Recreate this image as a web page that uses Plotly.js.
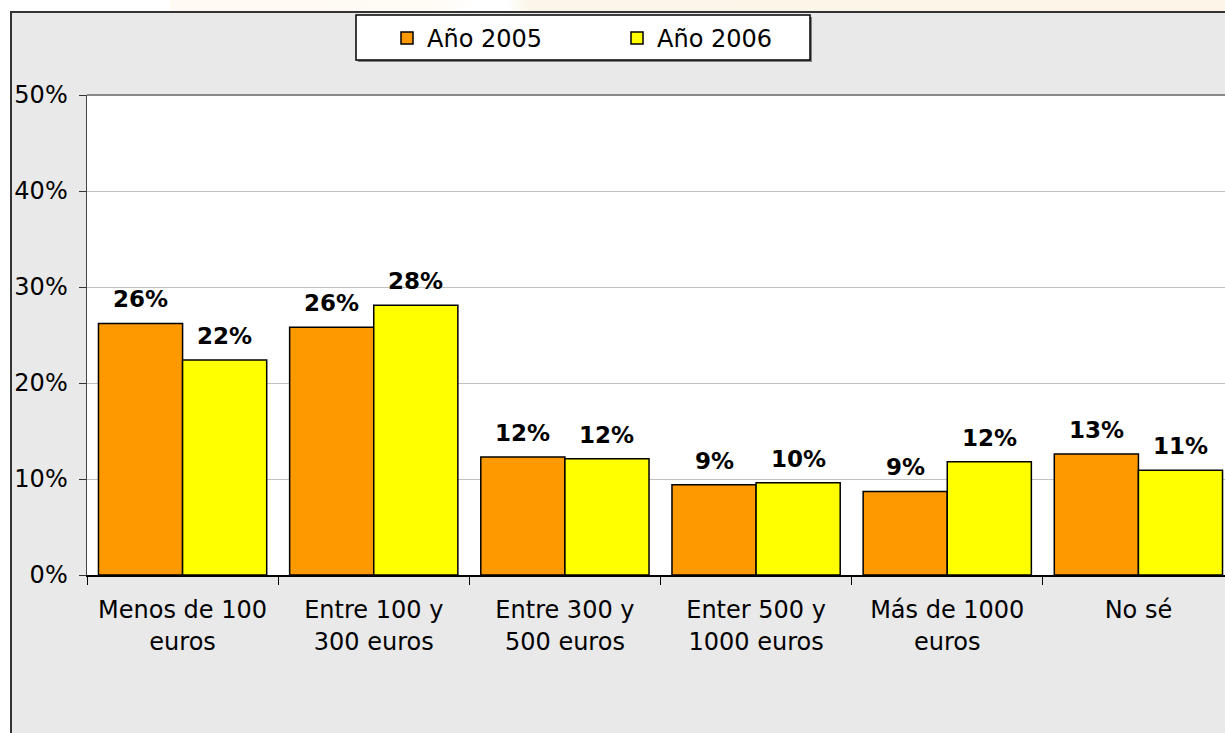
<!DOCTYPE html>
<html>
<head>
<meta charset="utf-8">
<script src="https://cdn.plot.ly/plotly-3.0.1.min.js"></script>
<style>
  html, body { margin:0; padding:0; width:1225px; height:733px; overflow:hidden; background:#ffffff; }
  #strip { position:absolute; left:170px; top:0; width:1055px; height:11px;
           background:linear-gradient(90deg, #fffaf3 0%, #fffbf5 25%, #ffffff 29%, #ffffff 32%, #fcf6ea 34%, #fcf5e8 100%); }
  #frame { position:absolute; left:10px; top:11px; width:1260px; height:740px;
           border-left:2px solid #333; border-top:2px solid #333; background:#e9e9e9; }
  #chart { position:absolute; left:0; top:0; }
</style>
</head>
<body>
<div id="strip"></div>
<div id="frame"><div id="chart"></div></div>
<script>
const categories = [
  "Menos de 100<br>euros",
  "Entre 100 y<br>300 euros",
  "Entre 300 y<br>500 euros",
  "Enter 500 y<br>1000 euros",
  "Más de 1000<br>euros",
  "No sé"
];
const seriesNames = ["Año 2005", "Año 2006"];
const values2005 = [26.2, 25.8, 12.3, 9.4, 8.7, 12.6];
const values2006 = [22.4, 28.1, 12.1, 9.6, 11.8, 10.9];
const yTickVals = [0, 10, 20, 30, 40, 50];

const colors = ["#FF9900", "#FFFF00"];
const allSeries = [values2005, values2006];

const W = 1250, H = 722;
const M = { l: 75, r: 28, t: 82, b: 160 };
const PW = W - M.l - M.r, PH = H - M.t - M.b;

const traces = allSeries.map((vals, i) => ({
  type: "bar",
  name: seriesNames[i],
  x: categories,
  y: vals,
  marker: { color: colors[i], line: { color: "#000000", width: 1.5 } },
  hoverinfo: "skip"
}));

const annotations = [];
allSeries.forEach((vals, i) => {
  vals.forEach((v, j) => {
    annotations.push({
      xref: "x", yref: "y", x: categories[j], y: v,
      xshift: i === 0 ? -42 : 42, yshift: 9,
      yanchor: "bottom", xanchor: "center",
      text: Math.round(v) + "%", showarrow: false,
      font: { family: "DejaVu Sans", size: 23, color: "#000000", weight: "bold" }
    });
  });
});

// legend frame (box drawn in pixel space of the figure, converted to paper units)
const px = x => (x - M.l) / PW;
const py = y => 1 - (y - M.t) / PH;
const legendBox = { x0: 344, x1: 798, y0: 2, y1: 47 };

const layout = {
  width: W, height: H,
  margin: M,
  paper_bgcolor: "#e9e9e9",
  plot_bgcolor: "#ffffff",
  font: { family: "DejaVu Sans", size: 24, color: "#000000" },
  barmode: "group",
  bargap: 0.12,
  bargroupgap: 0,
  showlegend: true,
  legend: {
    orientation: "h",
    xref: "container", yref: "container",
    x: 375 / W, xanchor: "left",
    y: 1 - 3 / H, yanchor: "top",
    bgcolor: "rgba(0,0,0,0)", borderwidth: 0,
    font: { family: "DejaVu Sans", size: 24, color: "#000000" },
    entrywidth: 185, entrywidthmode: "pixels",
    itemclick: false
  },
  xaxis: {
    type: "category",
    tickson: "boundaries",
    ticks: "outside", ticklen: 8, tickcolor: "#000000", tickwidth: 1,
    showline: true, linecolor: "#000000", linewidth: 1.5,
    showgrid: false,
    ticklabelstandoff: 13,
    tickfont: { family: "DejaVu Sans", size: 24 }
  },
  yaxis: {
    range: [0, 50],
    tickvals: yTickVals,
    ticktext: yTickVals.map(v => v + "%"),
    ticks: "outside", ticklen: 7, tickcolor: "#333333",
    showline: true, linecolor: "#444444", linewidth: 1.5,
    showgrid: true, gridcolor: "#c0c0c0", gridwidth: 1,
    zeroline: false,
    ticklabelstandoff: 6,
    tickfont: { family: "DejaVu Sans", size: 24 }
  },
  shapes: [
    { type: "line", xref: "paper", yref: "paper", x0: 0, x1: 1, y0: 1, y1: 1,
      line: { color: "#888888", width: 2 } },
    { type: "rect", xref: "paper", yref: "paper", layer: "above",
      x0: px(legendBox.x0 + 2), x1: px(legendBox.x1 + 2), y0: py(legendBox.y0 + 2), y1: py(legendBox.y1 + 2),
      fillcolor: "#808080", line: { width: 0 } },
    { type: "rect", xref: "paper", yref: "paper", layer: "above",
      x0: px(legendBox.x0), x1: px(legendBox.x1), y0: py(legendBox.y0), y1: py(legendBox.y1),
      fillcolor: "#ffffff", line: { color: "#000000", width: 1.5 } }
  ],
  annotations: annotations
};

Plotly.newPlot("chart", traces, layout, { displayModeBar: false, staticPlot: true });
</script>
</body>
</html>
